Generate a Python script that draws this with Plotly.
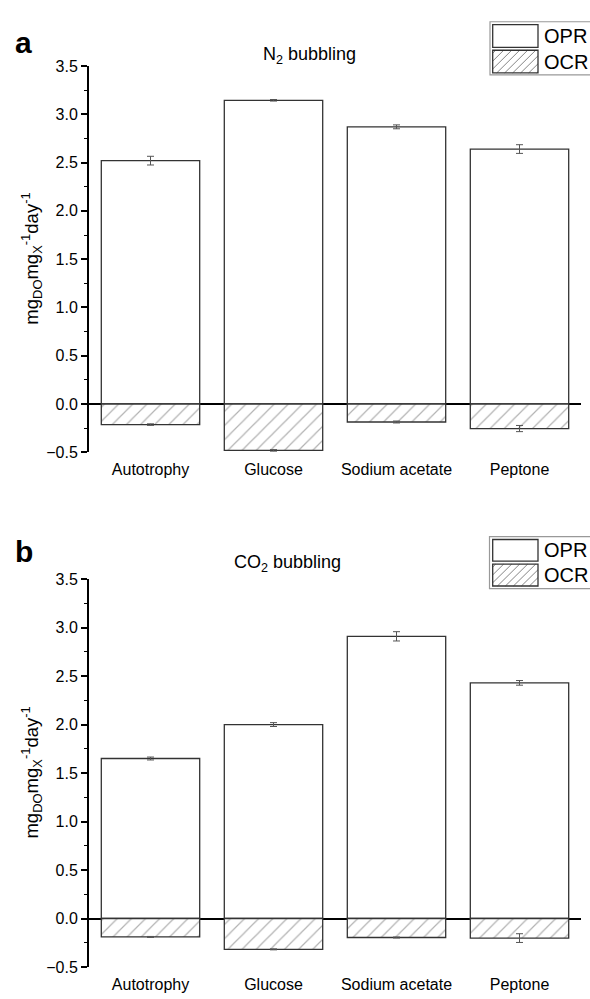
import plotly.graph_objects as go

W, H = 590, 999

categories = ["Autotrophy", "Glucose", "Sodium acetate", "Peptone"]

n2_opr = [2.52, 3.145, 2.87, 2.64]
n2_opr_err = [0.045, 0.008, 0.02, 0.045]
n2_ocr = [-0.213, -0.48, -0.186, -0.254]
n2_ocr_err = [0.008, 0.008, 0.01, 0.032]

co2_opr = [1.65, 2.00, 2.91, 2.43]
co2_opr_err = [0.015, 0.02, 0.048, 0.024]
co2_ocr = [-0.19, -0.318, -0.196, -0.202]
co2_ocr_err = [0.005, 0.005, 0.005, 0.045]

y_ticks = [-0.5, 0.0, 0.5, 1.0, 1.5, 2.0, 2.5, 3.0, 3.5]
panel_titles = ["N<sub>2</sub> bubbling", "CO<sub>2</sub> bubbling"]
panel_letters = ["a", "b"]
legend_names = ["OPR", "OCR"]
ytitle = "mg<sub>DO</sub>mg<sub>X</sub><sup>-1</sup>day<sup>-1</sup>"

FONT = "Liberation Sans, Arial, sans-serif"
EDGE = "#333333"
ERR = "#555555"
HATCH = "#666666"


def px(x):
    return x / W


def py(y):
    return 1 - y / H


fig = go.Figure()

panels = [
    (n2_opr, n2_opr_err, n2_ocr, n2_ocr_err, "x", "y"),
    (co2_opr, co2_opr_err, co2_ocr, co2_ocr_err, "x2", "y2"),
]
for opr, opr_e, ocr, ocr_e, xa, ya in panels:
    fig.add_trace(go.Bar(
        x=categories, y=opr, width=0.8, xaxis=xa, yaxis=ya,
        marker=dict(color="white", line=dict(color=EDGE, width=1.3)),
        error_y=dict(type="data", array=opr_e, color=ERR, thickness=1, width=3.5),
        showlegend=False, name=legend_names[0],
    ))
    fig.add_trace(go.Bar(
        x=categories, y=ocr, width=0.8, xaxis=xa, yaxis=ya,
        marker=dict(color="white", line=dict(color=EDGE, width=1.3),
                    pattern=dict(shape="/", fgcolor=HATCH, bgcolor="white",
                                 size=10, solidity=0.12)),
        error_y=dict(type="data", array=ocr_e, color=ERR, thickness=1, width=3.5),
        showlegend=False, name=legend_names[1],
    ))

x_dom = [px(89), px(581)]
y_doms = [[py(452), py(59)], [py(975.6), py(581)]]

common_x = dict(range=[-0.5, 3.5], showline=False, ticks="", showgrid=False,
                zeroline=False, ticklabelstandoff=6,
                tickfont=dict(family=FONT, size=16, color="black"))
common_y = dict(range=[-0.5, 3.5], tickvals=y_ticks, tickformat=".1f",
                showline=True, linecolor="black", linewidth=2,
                ticks="outside", ticklen=6, tickwidth=1.5, tickcolor="black",
                minor=dict(ticks="outside", ticklen=3, tickwidth=1.2,
                           tickcolor="black", dtick=0.25, tick0=0),
                showgrid=False, zeroline=True, zerolinecolor="black",
                zerolinewidth=1.6,
                tickfont=dict(family=FONT, size=16, color="black"))

fig.update_layout(
    width=W, height=H, barmode="overlay",
    margin=dict(l=0, r=0, t=0, b=0),
    paper_bgcolor="white", plot_bgcolor="white",
    xaxis=dict(domain=x_dom, anchor="y", **common_x),
    yaxis=dict(domain=y_doms[0], anchor="x", **common_y),
    xaxis2=dict(domain=x_dom, anchor="y2", **common_x),
    yaxis2=dict(domain=y_doms[1], anchor="x2", **common_y),
    showlegend=False,
)

annotations = []
shapes = []

letter_pos = [(13, 35.5), (13, 553)]
title_pos = [(309, 48.5), (287, 565)]
for i in range(2):
    lx, ly = letter_pos[i]
    annotations.append(dict(text="<b>%s</b>" % panel_letters[i], x=px(lx), y=py(ly),
                            xref="paper", yref="paper", xanchor="left", yanchor="middle",
                            showarrow=False, font=dict(family=FONT, size=30, color="black")))
    tx, ty = title_pos[i]
    annotations.append(dict(text=panel_titles[i], x=px(tx), y=py(ty),
                            xref="paper", yref="paper", xanchor="center", yanchor="middle",
                            showarrow=False, font=dict(family=FONT, size=18, color="black")))
    yc = (y_doms[i][0] + y_doms[i][1]) / 2
    annotations.append(dict(text=ytitle, x=px(31.5), y=yc, textangle=-90,
                            xref="paper", yref="paper", xanchor="center", yanchor="middle",
                            showarrow=False, font=dict(family=FONT, size=18.5, color="black")))

legend_boxes = [(490, 14, 68, 17, 40, 43, 66), (489.5, 537.7, 590.7, 540.7, 562.7, 565.7, 588)]
for (bx, by0, by1, o0, o1, c0, c1) in legend_boxes:
    shapes.append(dict(type="rect", xref="paper", yref="paper",
                       x0=px(bx), x1=px(594), y0=py(by1), y1=py(by0),
                       line=dict(color="#999999", width=1.2), fillcolor="white", layer="above"))
    sx0, sx1 = 492.7, 538
    shapes.append(dict(type="rect", xref="paper", yref="paper",
                       x0=px(sx0), x1=px(sx1), y0=py(o1), y1=py(o0),
                       line=dict(color=EDGE, width=1.3), fillcolor="white", layer="above"))
    path = ""
    s = 8.0
    c = sx0 + c0 + 3
    while c < sx1 + c1:
        xa_ = max(sx0, c - c1)
        xb_ = min(sx1, c - c0)
        if xb_ > xa_:
            path += "M%.4f,%.4f L%.4f,%.4f " % (px(xa_), py(c - xa_), px(xb_), py(c - xb_))
        c += s
    shapes.append(dict(type="path", xref="paper", yref="paper", path=path,
                       line=dict(color="#777777", width=0.9), layer="above"))
    shapes.append(dict(type="rect", xref="paper", yref="paper",
                       x0=px(sx0), x1=px(sx1), y0=py(c1), y1=py(c0),
                       line=dict(color=EDGE, width=1.3), fillcolor="rgba(0,0,0,0)", layer="above"))
    for name, (a0, a1) in zip(legend_names, [(o0, o1), (c0, c1)]):
        annotations.append(dict(text=name, x=px(542), y=py((a0 + a1) / 2),
                                xref="paper", yref="paper", xanchor="left", yanchor="middle",
                                showarrow=False, font=dict(family=FONT, size=20, color="black")))

fig.update_layout(annotations=annotations, shapes=shapes)

fig.write_html("out.html")
